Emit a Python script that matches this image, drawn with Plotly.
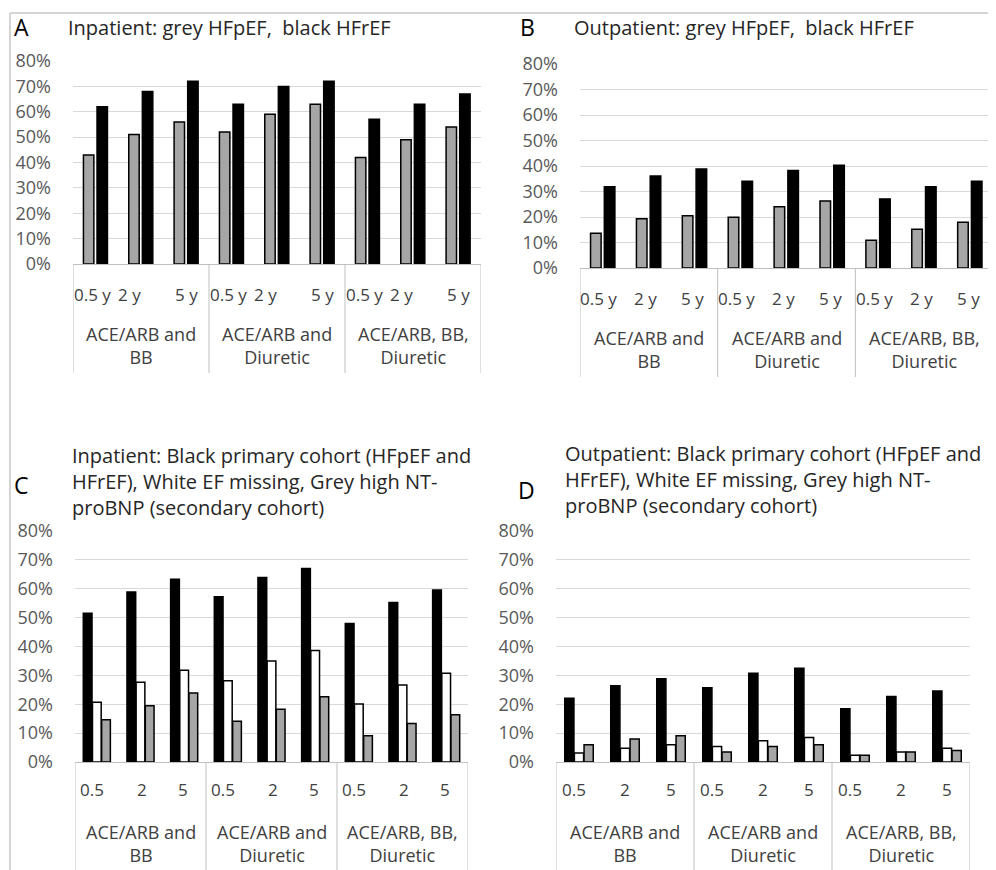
import plotly.graph_objects as go

W, H = 996, 870
OFF = 8  # page body margin in the browser

groups = ["ACE/ARB and<br>BB", "ACE/ARB and<br>Diuretic", "ACE/ARB, BB,<br>Diuretic"]
years_ab = ["0.5 y", "2 y", "5 y"]
years_cd = ["0.5", "2", "5"]

# Panel A: Inpatient (grey HFpEF, black HFrEF)
a_hfpef = [0.43, 0.51, 0.56, 0.52, 0.59, 0.63, 0.42, 0.49, 0.54]
a_hfref = [0.62, 0.68, 0.72, 0.63, 0.70, 0.72, 0.57, 0.63, 0.67]
# Panel B: Outpatient (grey HFpEF, black HFrEF)
b_hfpef = [0.136, 0.193, 0.205, 0.199, 0.240, 0.263, 0.109, 0.152, 0.179]
b_hfref = [0.319, 0.361, 0.388, 0.340, 0.382, 0.403, 0.271, 0.319, 0.340]
# Panel C: Inpatient (black primary, white EF missing, grey high NT-proBNP)
c_primary = [0.515, 0.589, 0.633, 0.572, 0.639, 0.670, 0.480, 0.552, 0.596]
c_efmiss = [0.207, 0.276, 0.318, 0.281, 0.350, 0.386, 0.201, 0.267, 0.307]
c_ntpro = [0.146, 0.195, 0.239, 0.141, 0.183, 0.226, 0.091, 0.133, 0.164]
# Panel D: Outpatient
d_primary = [0.221, 0.264, 0.288, 0.257, 0.307, 0.325, 0.184, 0.227, 0.246]
d_efmiss = [0.031, 0.048, 0.060, 0.054, 0.074, 0.085, 0.023, 0.035, 0.048]
d_ntpro = [0.060, 0.080, 0.091, 0.035, 0.054, 0.060, 0.023, 0.035, 0.040]

titles = {
    "A": "Inpatient: grey HFpEF,  black HFrEF",
    "B": "Outpatient: grey HFpEF,  black HFrEF",
    "C": "Inpatient: Black primary cohort (HFpEF and<br>HFrEF), White EF missing, Grey high NT-<br>proBNP (secondary cohort)",
    "D": "Outpatient: Black primary cohort (HFpEF and<br>HFrEF), White EF missing, Grey high NT-<br>proBNP (secondary cohort)",
}

def keys(years):
    return [g.replace("<br>", " ") + " | " + y for g in groups for y in years]

GREY = "#a6a6a6"
FONT = "Open Sans"
fig = go.Figure()

def bar(x, y, color, offset, width, xa, ya, name):
    fig.add_trace(go.Bar(
        x=x, y=y, name=name, xaxis=xa, yaxis=ya,
        offset=offset, width=width,
        marker=dict(color=color, line=dict(color="black", width=1.5)),
        showlegend=False,
    ))

kab = keys(years_ab)
kcd = keys(years_cd)
bar(kab, a_hfpef, GREY, -0.27, 0.23, "x", "y", "HFpEF")
bar(kab, a_hfref, "black", 0.03, 0.23, "x", "y", "HFrEF")
bar(kab, b_hfpef, GREY, -0.27, 0.23, "x2", "y2", "HFpEF")
bar(kab, b_hfref, "black", 0.03, 0.23, "x2", "y2", "HFrEF")
bar(kcd, c_primary, "black", -0.31, 0.2, "x3", "y3", "Primary cohort")
bar(kcd, c_efmiss, "white", -0.10, 0.2, "x3", "y3", "EF missing")
bar(kcd, c_ntpro, GREY, 0.11, 0.2, "x3", "y3", "High NT-proBNP")
bar(kcd, d_primary, "black", -0.31, 0.2, "x4", "y4", "Primary cohort")
bar(kcd, d_efmiss, "white", -0.10, 0.2, "x4", "y4", "EF missing")
bar(kcd, d_ntpro, GREY, 0.11, 0.2, "x4", "y4", "High NT-proBNP")

def px(v):
    return (v - OFF) / W

def py(v):
    return 1 - (v - OFF) / H

# panel: axis suffix, x pixel span, y pixel span (0%, 80%), keys, years,
#        sub label offset, group label offset, divider length, sub label x-shifts
panels = [
    ("", [73, 481], [264, 61], kab, years_ab, 30, 81, 109, [-3, -12, 0]),
    ("2", [580, 993], [268, 64], kab, years_ab, 30, 81, 109, [-4, -3, -2]),
    ("3", [75, 468], [762, 531], kcd, years_cd, 27, 81, 120, [-5, 1, -1]),
    ("4", [556, 970], [762, 531], kcd, years_cd, 27, 81, 120, [-5, 0, 0]),
]

layout = dict(
    width=W, height=H, margin=dict(l=0, r=0, t=0, b=0),
    paper_bgcolor="white", plot_bgcolor="white",
    font=dict(family=FONT, color="#595959"),
    barmode="overlay",
)
ann = []
shapes = []
for k, xd, yd, kk, yrs, sub_off, grp_off, div_len, shifts in panels:
    hpx = yd[0] - yd[1]
    layout["xaxis" + k] = dict(
        domain=[px(xd[0]), px(xd[1])], anchor="y" + k, type="category",
        categoryorder="array", categoryarray=kk, range=[-0.5, len(kk) - 0.5],
        showline=True, linecolor="#bfbfbf", linewidth=1,
        showticklabels=False, ticks="", automargin=False,
        showgrid=False, zeroline=False,
    )
    layout["yaxis" + k] = dict(
        domain=[py(yd[0]), py(yd[1])], anchor="x" + k,
        range=[0, 0.8], dtick=0.1, tickformat=".0%",
        showgrid=True, gridcolor="#d9d9d9", gridwidth=1,
        zeroline=False, showline=False, ticks="", automargin=False,
        ticklabelstandoff=21,
        tickfont=dict(size=18, color="#595959", family=FONT),
    )
    xr = "x" + k
    yr = ("y" + k) + " domain"
    for i, key in enumerate(kk):
        ann.append(dict(text=yrs[i % 3], x=key, y=-sub_off / hpx, xref=xr, yref=yr,
                        xanchor="center", yanchor="middle", showarrow=False,
                        xshift=shifts[i % 3],
                        font=dict(size=17, color="#404040", family=FONT)))
    for gi, g in enumerate(groups):
        ann.append(dict(text=g, x=kk[gi * 3 + 1], y=-grp_off / hpx, xref=xr, yref=yr,
                        xanchor="center", yanchor="middle", showarrow=False,
                        font=dict(size=18, color="#404040", family=FONT)))
    for b in range(4):
        shapes.append(dict(type="line", xref=xr, yref=yr, x0=b * 3 - 0.5, x1=b * 3 - 0.5,
                           y0=0, y1=-div_len / hpx, line=dict(color="#bfbfbf", width=1)))
fig.update_layout(**layout)

letters = [("A", 12, 27), ("B", 518, 27), ("C", 12, 485), ("D", 516, 490)]
for t, x, y in letters:
    ann.append(dict(text=t, x=px(x), y=py(y), xref="paper", yref="paper",
                    xanchor="left", yanchor="middle", showarrow=False,
                    font=dict(size=23, color="black", family=FONT)))
tpos = {"A": (66, 27), "B": (572, 27), "C": (70, 481), "D": (563, 479)}
for k, (x, y) in tpos.items():
    ann.append(dict(text=titles[k], x=px(x), y=py(y), xref="paper", yref="paper",
                    xanchor="left", yanchor="middle", align="left", showarrow=False,
                    font=dict(size=20, color="#262626", family=FONT)))

shapes.append(dict(type="line", xref="paper", yref="paper", x0=px(10), x1=1, y0=py(13), y1=py(13),
                   line=dict(color="#d4d4d4", width=2)))
shapes.append(dict(type="line", xref="paper", yref="paper", x0=px(10), x1=px(10), y0=py(13), y1=0,
                   line=dict(color="#d4d4d4", width=2)))
fig.update_layout(annotations=ann, shapes=shapes)

fig.write_html("out.html")
